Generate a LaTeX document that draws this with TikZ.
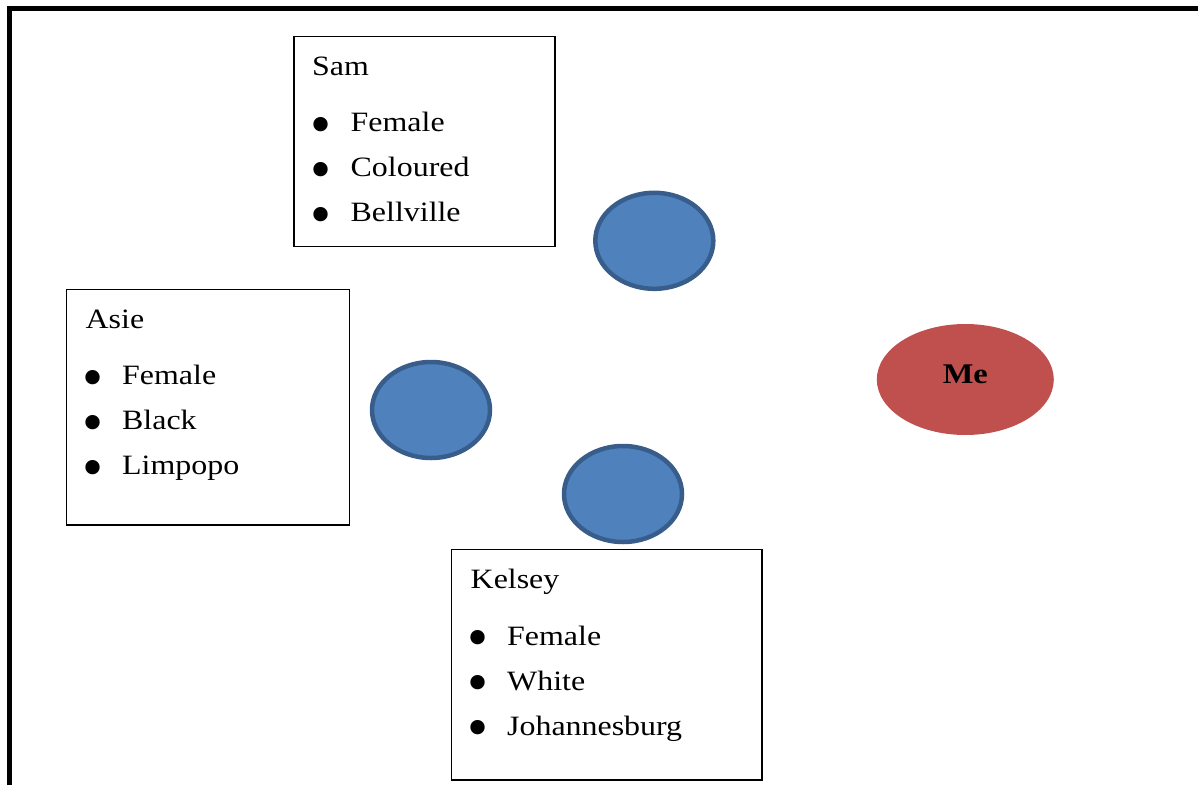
\documentclass[tikz,border=0pt]{standalone}
\usepackage{fontspec}
\setmainfont{Liberation Serif}[FakeStretch=1.14]
\newfontfamily\dotfont{Liberation Serif}
\usetikzlibrary{shapes.geometric}
\definecolor{peerblue}{HTML}{4F81BD}
\definecolor{peeredge}{HTML}{385D8A}
\definecolor{mered}{HTML}{C0504D}
\tikzset{
every node/.style={inner sep=0pt},
card/.style={rectangle, draw, line width=1.3pt},
person/.style={anchor=base west, font=\fontsize{28}{45}\selectfont},
trait/.style={anchor=base west, font=\fontsize{28}{45}\selectfont},
peer/.style={ellipse, draw=peeredge, fill=peerblue, line width=4.5pt, minimum width=118pt, minimum height=96pt},
mebubble/.style={ellipse, fill=mered, minimum width=177pt, minimum height=111pt, text height=7pt, text depth=0pt, font=\fontsize{28.5}{45}\selectfont\bfseries}
}
\newcommand{\bul}{\llap{\smash{\raisebox{-12.6pt}{\dotfont\fontsize{60}{60}\selectfont\textbullet}}\hspace{19pt}}}

\begin{document}
\begin{tikzpicture}[x=1pt, y=-1pt]
\useasboundingbox (0,0) rectangle (1198,784);
\clip (0,0) rectangle (1198,784);
\draw[line width=5pt] (9.2,8.6) rectangle (1215,800);

% people
\node [card, minimum width=261pt, minimum height=210pt] (sambox) at (424.5,141.7) {};
\node [person] (sam) at (312,75) {Sam};
\node [trait] (sam1) at (350.5,131.7) {\bul Female};
\node [trait] (sam2) at (350.5,176.7) {\bul Coloured};
\node [trait] (sam3) at (350.5,221.7) {\bul Bellville};

\node [card, minimum width=283pt, minimum height=235.7pt] (asiebox) at (207.9,407.2) {};
\node [person] (asie) at (85.5,328) {Asie};
\node [trait] (asie1) at (122,384.7) {\bul Female};
\node [trait] (asie2) at (122,429.7) {\bul Black};
\node [trait] (asie3) at (122,474.7) {\bul Limpopo};

\node [card, minimum width=310.7pt, minimum height=230.4pt] (kelseybox) at (606.7,664.9) {};
\node [person] (kelsey) at (470.5,588.3) {Kelsey};
\node [trait] (kelsey1) at (507,645) {\bul Female};
\node [trait] (kelsey2) at (507,690) {\bul White};
\node [trait] (kelsey3) at (507,735) {\bul Johannesburg};

% circles
\node [peer] (peersam) at (654.3,240.8) {};
\node [peer] (peerasie) at (431,410) {};
\node [peer] (peerkelsey) at (623,494) {};
\node [mebubble] (me) at (965.3,379.5) {Me};
\end{tikzpicture}
\end{document}
